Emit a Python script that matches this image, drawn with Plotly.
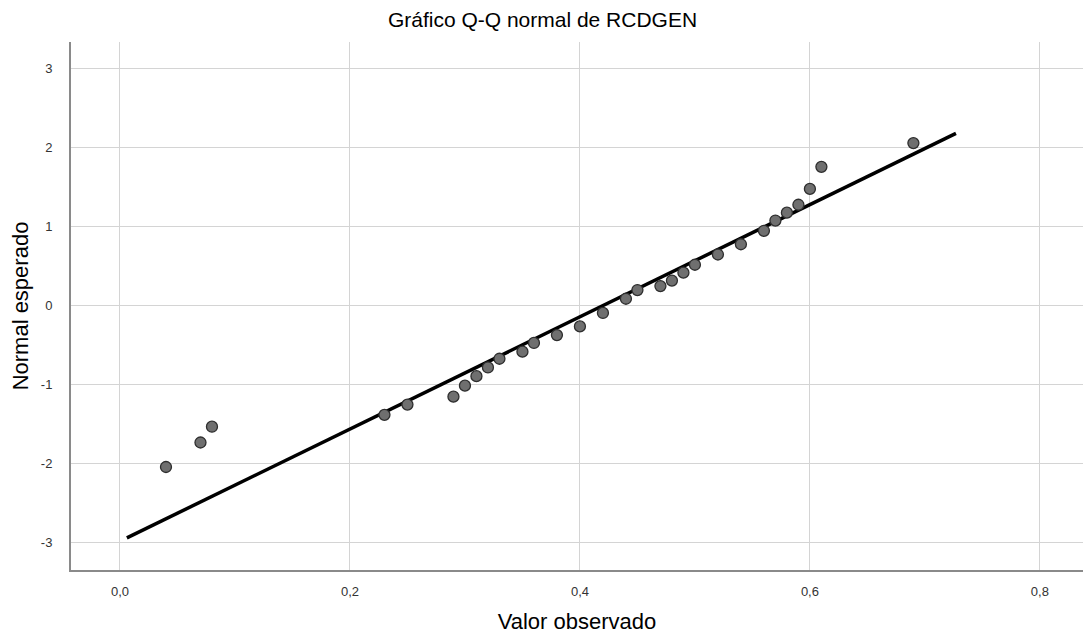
import plotly.graph_objects as go

# Observed values and expected normal scores
observed = [0.04, 0.07, 0.08, 0.23, 0.25, 0.29, 0.30, 0.31, 0.32, 0.33,
            0.35, 0.36, 0.38, 0.40, 0.42, 0.44, 0.45, 0.47, 0.48, 0.49,
            0.50, 0.52, 0.54, 0.56, 0.57, 0.58, 0.59, 0.60, 0.61, 0.69]
expected = [-2.05, -1.74, -1.54, -1.39, -1.26, -1.16, -1.02, -0.90, -0.79, -0.68,
            -0.59, -0.48, -0.38, -0.27, -0.10, 0.08, 0.19, 0.24, 0.31, 0.41,
            0.51, 0.64, 0.77, 0.94, 1.07, 1.17, 1.27, 1.47, 1.75, 2.05]

# Reference line (normal fit): mean and sd
line_mean = 0.421
line_sd = 0.1408
line_x = [0.006, 0.727]
line_y = [(v - line_mean) / line_sd for v in line_x]

x_ticks = [0.0, 0.2, 0.4, 0.6, 0.8]
x_tick_labels = ["0,0", "0,2", "0,4", "0,6", "0,8"]
y_ticks = [-3, -2, -1, 0, 1, 2, 3]
y_tick_labels = ["-3", "-2", "-1", "0", "1", "2", "3"]

font = "Liberation Sans, Arial, sans-serif"

fig = go.Figure()
fig.add_trace(go.Scatter(x=line_x, y=line_y, mode="lines",
                         line=dict(color="black", width=3.5), hoverinfo="skip",
                         showlegend=False))
fig.add_trace(go.Scatter(x=observed, y=expected, mode="markers",
                         marker=dict(size=11, color="#6f6f6f",
                                     line=dict(color="#2e2e2e", width=1.3)),
                         showlegend=False))

fig.update_layout(
    width=1085, height=634,
    margin=dict(l=71, r=2, t=42, b=62),
    paper_bgcolor="white", plot_bgcolor="white",
    title=dict(text="Gráfico Q-Q normal de RCDGEN", x=0.5, xanchor="center",
               y=1 - 20 / 634, yanchor="middle",
               font=dict(family=font, size=21, color="#000")),
    font=dict(family=font),
    xaxis=dict(range=[-0.0426, 0.8375], tickvals=x_ticks, ticktext=x_tick_labels,
               showgrid=True, gridcolor="#d4d4d4", gridwidth=1,
               zeroline=False, showline=True, linecolor="#8a8a8a", linewidth=2,
               ticks="", tickfont=dict(size=13, color="#333"),
               ticklabelstandoff=8,
               title=dict(text="Valor observado", standoff=18,
                          font=dict(family=font, size=22, color="#000"))),
    yaxis=dict(range=[-3.354, 3.33], tickvals=y_ticks, ticktext=y_tick_labels,
               showgrid=True, gridcolor="#d4d4d4", gridwidth=1,
               zeroline=False, showline=True, linecolor="#8a8a8a", linewidth=2,
               ticks="", tickfont=dict(size=13, color="#333"),
               ticklabelstandoff=14,
               title=dict(text="Normal esperado", standoff=6,
                          font=dict(family=font, size=22, color="#000"))),
)

fig.write_html("out.html")
